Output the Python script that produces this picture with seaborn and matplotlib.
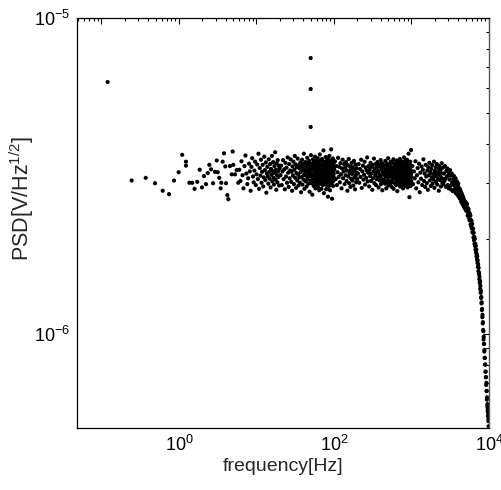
import numpy as np
import pandas as pd
import matplotlib
matplotlib.use("Agg")
import matplotlib.pyplot as plt
import matplotlib.ticker as mticker
import seaborn as sns

# ---------------- data (frequency in Hz, PSD in units of 1e-8 V/Hz^1/2) ----------------
outlier_freq = [0.12, 50, 50, 50]
outlier_psd = [627, 747, 596, 452]

low_freq = [0.245, 0.372, 0.49, 0.616, 0.743, 0.862, 0.99, 1.10, 1.23, 1.23,
            1.36, 1.48, 1.59, 1.72, 1.85, 1.98, 2.10, 2.23, 2.35, 2.46,
            2.59, 2.75, 2.91, 3.07, 3.16, 3.31, 3.45, 3.51, 3.66, 3.81,
            3.96, 4.04, 4.20, 4.33, 4.55, 4.79, 4.93, 5.02, 5.28, 5.55, 5.82]
low_psd = [306, 312, 300, 284, 277, 306, 325, 369, 351, 341,
           301, 301, 288, 303, 331, 291, 316, 298, 323, 343,
           332, 300, 326, 354, 325, 312, 289, 301, 351, 373,
           339, 300, 275, 267, 340, 320, 378, 343, 320, 330, 301]

band1_freq = [6.0, 6.2, 6.4, 6.6, 6.8, 7.0, 7.2, 7.4, 7.6, 7.8,
              8.0, 8.2, 8.4, 8.6, 8.8, 9.0, 9.2, 9.4, 9.6, 9.8,
              10.0, 10.2, 10.4, 10.6, 10.8, 11.0, 11.2, 11.4, 11.6, 11.8,
              12.0, 12.2, 12.4, 12.6, 12.8, 13.0, 13.2, 13.4, 13.6, 13.8,
              14.0, 14.2, 14.4, 14.6, 14.8, 15.0, 15.2, 15.4, 15.6, 15.8,
              16.0, 16.2, 16.4, 16.6, 16.8, 17.0, 17.2, 17.4, 17.6, 17.8,
              18.0, 18.2, 18.4, 18.6, 18.8, 19.0, 19.2, 19.4, 19.6, 19.8]
band1_psd = [331, 305, 352, 318, 289, 340, 367, 322, 298, 311, 346, 327, 284, 338, 360, 315, 302, 329, 351, 296,
             320, 344, 309, 372, 288, 335, 317, 356, 301, 326, 343, 293, 313, 364, 330, 307, 349, 280, 322, 338,
             315, 299, 357, 326, 310, 345, 291, 333, 319, 366, 304, 328, 350, 312, 297, 340, 323, 376, 308, 331,
             286, 347, 318, 302, 355, 327, 314, 341, 295, 334]

band2_freq = [20.4, 20.8, 21.2, 21.6, 22.0, 22.4, 22.8, 23.2, 23.6, 24.0,
              24.4, 24.8, 25.2, 25.6, 26.0, 26.4, 26.8, 27.2, 27.6, 28.0,
              28.4, 28.8, 29.2, 29.6, 30.0, 30.4, 30.8, 31.2, 31.6, 32.0,
              32.4, 32.8, 33.2, 33.6, 34.0, 34.4, 34.8, 35.2, 35.6, 36.0,
              36.4, 36.8, 37.2, 37.6, 38.0, 38.4, 38.8, 39.2, 39.6, 40.0,
              40.4, 40.8, 41.2, 41.6, 42.0, 42.4, 42.8, 43.2, 43.6, 44.0,
              44.4, 44.8, 45.2, 45.6, 46.0, 46.4, 46.8, 47.2, 47.6, 48.0,
              48.4, 48.8, 49.2, 49.6, 50.0, 50.4, 50.8, 51.2, 51.6, 52.0,
              52.4, 52.8, 53.2, 53.6, 54.0, 54.4, 54.8, 55.2, 55.6, 56.0,
              56.4, 56.8, 57.2, 57.6, 58.0, 58.4, 58.8, 59.2, 59.6, 60.0,
              60.4, 60.8, 61.2, 61.6, 62.0, 62.4, 62.8, 63.2, 63.6, 64.0,
              64.4, 64.8, 65.2, 65.6, 66.0, 66.4, 66.8, 67.2, 67.6, 68.0,
              68.4, 68.8, 69.2, 69.6, 70.0, 70.4, 70.8, 71.2, 71.6, 72.0,
              72.4, 72.8, 73.2, 73.6, 74.0, 74.4, 74.8, 75.2, 75.6, 76.0,
              76.4, 76.8, 77.2, 77.6, 78.0, 78.4, 78.8, 79.2, 79.6, 80.0,
              80.4, 80.8, 81.2, 81.6, 82.0, 82.4, 82.8, 83.2, 83.6, 84.0,
              84.4, 84.8, 85.2, 85.6, 86.0, 86.4, 86.8, 87.2, 87.6, 88.0,
              88.4, 88.8, 89.2, 89.6, 90.0, 90.4, 90.8, 91.2, 91.6, 92.0,
              92.4, 92.8, 93.2, 93.6, 94.0, 94.4, 94.8, 95.2, 95.6, 96.0,
              96.4, 96.8, 97.2, 97.6, 98.0, 98.4, 98.8, 99.2, 99.6, 100.0]
band2_psd = [318, 341, 296, 327, 355, 309, 332, 287, 348, 315, 336, 301, 362, 324, 292, 345, 311, 329, 357, 303,
             326, 284, 339, 317, 351, 298, 331, 366, 312, 344, 290, 323, 337, 306, 359, 320, 295, 342, 313, 334,
             301, 349, 325, 281, 338, 314, 356, 297, 330, 345, 308, 372, 319, 288, 336, 327, 350, 304, 317, 340,
             293, 329, 361, 310, 324, 347, 299, 335, 316, 353, 282, 328, 343, 305, 321, 368, 300, 332, 314, 346,
             276, 338, 322, 357, 307, 331, 294, 349, 318, 336, 302, 364, 325, 289, 341, 311, 353, 297, 330, 319,
             345, 304, 327, 360, 292, 339, 316, 351, 308, 333, 285, 347, 322, 370, 299, 326, 313, 342, 306, 355,
             320, 288, 336, 311, 358, 301, 329, 344, 296, 317, 352, 309, 381, 323, 279, 340, 315, 334, 303, 348,
             312, 339, 298, 326, 363, 305, 331, 287, 350, 318, 341, 300, 324, 356, 291, 337, 310, 345, 272, 328,
             358, 307, 321, 343, 294, 335, 316, 366, 302, 329, 348, 285, 338, 314, 353, 297, 325, 342, 309, 384,
             323, 299, 346, 317, 334, 268, 350, 311, 327, 303, 340, 359, 294, 331, 315, 347, 306, 321, 337, 312]

band3_freq = [101, 103, 105, 107, 109, 111, 113, 115, 117, 119,
              121, 123, 125, 127, 129, 131, 133, 135, 137, 139,
              141, 143, 145, 147, 149, 151, 153, 155, 157, 159,
              161, 163, 165, 167, 169, 171, 173, 175, 177, 179,
              181, 183, 185, 187, 189, 191, 193, 195, 197, 199,
              204, 208, 212, 216, 220, 224, 228, 232, 236, 240,
              244, 248, 252, 256, 260, 264, 268, 272, 276, 280,
              284, 288, 292, 296, 300, 304, 308, 312, 316, 320,
              324, 328, 332, 336, 340, 344, 348, 352, 356, 360,
              364, 368, 372, 376, 380, 384, 388, 392, 396, 400,
              404, 408, 412, 416, 420, 424, 428, 432, 436, 440,
              444, 448, 452, 456, 460, 464, 468, 472, 476, 480,
              484, 488, 492, 496, 500, 504, 508, 512, 516, 520,
              524, 528, 532, 536, 540, 544, 548, 552, 556, 560,
              564, 568, 572, 576, 580, 584, 588, 592, 596, 600,
              604, 608, 612, 616, 620, 624, 628, 632, 636, 640,
              644, 648, 652, 656, 660, 664, 668, 672, 676, 680,
              684, 688, 692, 696, 700, 704, 708, 712, 716, 720,
              724, 728, 732, 736, 740, 744, 748, 752, 756, 760,
              764, 768, 772, 776, 780, 784, 788, 792, 796, 800,
              804, 808, 812, 816, 820, 824, 828, 832, 836, 840,
              844, 848, 852, 856, 860, 864, 868, 872, 876, 880,
              884, 888, 892, 896, 900, 904, 908, 912, 916, 920,
              924, 928, 932, 936, 940, 944, 948, 952, 956, 960,
              964, 968, 972, 976, 980, 984, 988, 992, 996, 1000]
band3_psd = [331, 352, 309, 340, 296, 325, 361, 314, 338, 302, 347, 320, 289, 334, 356, 311, 327, 345, 298, 336,
             318, 350, 305, 329, 284, 342, 315, 358, 300, 323, 339, 292, 331, 310, 348, 321, 306, 337, 295, 326,
             353, 313, 330, 287, 344, 317, 302, 335, 324, 309,
             322, 345, 301, 333, 314, 356, 290, 327, 341, 308, 319, 351, 297, 336, 312, 329, 362, 304, 324, 340,
             293, 331, 316, 348, 305, 322, 338, 286, 343, 311, 327, 359, 300, 334, 318, 345, 296, 325, 309, 337,
             350, 313, 328, 291, 344, 321, 306, 339, 317, 355, 298, 332, 310, 347, 285, 326, 341, 303, 319, 336,
             307, 342, 324, 299, 353, 315, 331, 289, 338, 320, 346, 304, 327, 312, 360, 295, 335, 318, 301, 343,
             328, 297, 340, 316, 351, 306, 323, 337, 292, 329, 314, 349, 302, 334, 321, 357, 288, 332, 310, 345,
             319, 338, 300, 326, 347, 311, 333, 296, 341, 317, 354, 305, 329, 283, 339, 322, 308, 350, 315, 331,
             298, 344, 320, 336, 307, 325, 358, 293, 332, 314, 347, 301, 328, 340, 311, 352, 296, 323, 337, 306,
             341, 316, 330, 289, 348, 322, 305, 335, 318, 362, 299, 327, 312, 344, 303, 331, 320, 353, 294, 338,
             310, 333, 297, 345, 324, 308, 339, 315, 356, 302, 326, 343, 291, 334, 319, 348, 306, 329, 372, 300,
             325, 342, 308, 331, 271, 346, 317, 335, 299, 323, 351, 313, 330, 294, 340, 321, 382, 305, 327, 314]

band4_freq = [1025, 1050, 1075, 1100, 1125, 1150, 1175, 1200, 1225, 1250,
              1275, 1300, 1325, 1350, 1375, 1400, 1425, 1450, 1475, 1500,
              1525, 1550, 1575, 1600, 1625, 1650, 1675, 1700, 1725, 1750,
              1775, 1800, 1825, 1850, 1875, 1900, 1925, 1950, 1975, 2000,
              2025, 2050, 2075, 2100, 2125, 2150, 2175, 2200, 2225, 2250,
              2275, 2300, 2325, 2350, 2375, 2400, 2425, 2450, 2475, 2500,
              2540, 2580, 2620, 2660, 2700, 2740, 2780, 2820, 2860, 2900,
              2940, 2980, 3020, 3060, 3100, 3140, 3180, 3220, 3260, 3300,
              3340, 3380, 3420, 3460, 3500, 3540, 3580, 3620, 3660, 3700,
              3740, 3780, 3820, 3860, 3900, 3940, 3980, 4020, 4060, 4100,
              4140, 4180, 4220, 4260, 4300, 4340, 4380, 4420, 4460, 4500,
              4540, 4580, 4620, 4660, 4700, 4740, 4780, 4820, 4860, 4900,
              4940, 4980]
band4_psd = [340, 298, 327, 311, 352, 289, 318, 335, 302, 346, 281, 324, 310, 339, 296, 331, 357, 305, 322, 292,
             343, 315, 300, 329, 286, 337, 318, 348, 306, 325, 294, 333, 313, 342, 299, 321, 308, 351, 290, 328,
             316, 337, 303, 324, 345, 297, 319, 310, 334, 284, 326, 340, 307, 318, 330, 293, 322, 347, 311, 301,
             336, 298, 322, 305, 340, 310, 292, 328, 315, 334, 296, 318, 289, 325, 308, 330, 294, 317, 286, 322,
             301, 318, 283, 309, 296, 316, 284, 305, 290, 311, 279, 300, 287, 304, 276, 296, 281, 299, 272, 290,
             276, 288, 268, 285, 270, 281, 262, 279, 263, 275, 258, 272, 259, 270, 254, 266, 253, 264, 250, 262,
             249, 260]

rolloff_freq = [5000, 5050, 5100, 5150, 5200, 5250, 5300, 5350, 5400, 5450,
                5500, 5550, 5600, 5650, 5700, 5750, 5800, 5850, 5900, 5950,
                6000, 6050, 6100, 6150, 6200, 6250, 6300, 6350, 6400, 6450,
                6500, 6550, 6600, 6650, 6700, 6750, 6800, 6850, 6900, 6950,
                7000, 7050, 7100, 7150, 7200, 7250, 7300, 7350, 7400, 7450,
                7500, 7550, 7600, 7650, 7700, 7750, 7800, 7850, 7900, 7950,
                8000, 8050, 8100, 8150, 8200, 8250, 8300, 8350, 8400, 8450,
                8500, 8550, 8600, 8650, 8700, 8750, 8800, 8850, 8900, 8950,
                9000, 9050, 9100, 9150, 9200, 9250, 9300, 9350, 9400, 9450,
                9500, 9550, 9600, 9650, 9700, 9750, 9800, 9850, 9900, 9950,
                10000]
rolloff_psd = [261, 246, 255, 246, 258, 245, 237, 250, 241, 248,
               234, 242, 229, 240, 231, 237, 222, 229, 219, 228,
               216, 223, 210, 216, 209, 215, 202, 209, 198, 203,
               193, 200, 190, 193, 185, 190, 181, 185, 176, 179,
               172, 176, 168, 171, 163, 166, 158, 162, 155, 156,
               149, 152, 145, 147, 139, 142, 135, 137, 130, 131,
               125, 126, 119, 120, 113, 115, 108, 109, 103, 102,
               96, 98, 93, 93, 88, 89, 84, 84, 80, 80,
               76, 76, 73, 73, 69, 70, 66, 66, 62, 63,
               59, 60, 57, 58, 55, 56, 53, 54, 51, 51,
               50]

x_tick_values = [0.1, 1, 10, 100, 1000, 10000]
x_tick_labels = ["", "$10^0$", "", "$10^2$", "", "$10^4$"]
y_tick_values = [1e-6, 1e-5]
y_tick_labels = ["$10^{-6}$", "$10^{-5}$"]

# ---------------- build table ----------------
freq_all = (outlier_freq + low_freq + band1_freq + band2_freq + band3_freq
            + band4_freq + rolloff_freq)
psd_all = (outlier_psd + low_psd + band1_psd + band2_psd + band3_psd
           + band4_psd + rolloff_psd)
df = pd.DataFrame({"freq": freq_all, "psd": np.array(psd_all, dtype=float) * 1e-8})

# ---------------- style ----------------
sns.set_style("white")
plt.rcParams["font.family"] = ["Liberation Sans", "DejaVu Sans"]
plt.rcParams["mathtext.default"] = "regular"

fig = plt.figure(figsize=(5.02, 4.90), dpi=100)
ax = fig.add_axes([77 / 502, 62 / 490, 412 / 502, 410 / 490])

sns.scatterplot(data=df, x="freq", y="psd", color="black", s=9, linewidth=0,
                edgecolor="none", ax=ax, legend=False)

ax.set_xscale("log")
ax.set_yscale("log")
ax.set_xlim(0.0483, 1e4)
ax.set_ylim(5.04e-7, 1e-5)

ax.xaxis.set_major_locator(mticker.FixedLocator(x_tick_values))
ax.xaxis.set_major_formatter(mticker.FixedFormatter(x_tick_labels))
ax.xaxis.set_minor_locator(mticker.LogLocator(base=10, subs=np.arange(2, 10), numticks=20))
ax.xaxis.set_minor_formatter(mticker.NullFormatter())
ax.yaxis.set_major_locator(mticker.FixedLocator(y_tick_values))
ax.yaxis.set_major_formatter(mticker.FixedFormatter(y_tick_labels))
ax.yaxis.set_minor_locator(mticker.LogLocator(base=10, subs=np.arange(2, 10), numticks=20))
ax.yaxis.set_minor_formatter(mticker.NullFormatter())

ax.tick_params(which="both", direction="in", top=True, right=True,
               colors="black", labelsize=13, width=0.8)
ax.tick_params(which="major", length=4.5, pad=5)
ax.tick_params(which="minor", length=2.5)

for side in ["left", "bottom", "top"]:
    ax.spines[side].set_color("black")
    ax.spines[side].set_linewidth(0.9)
ax.spines["right"].set_color("#555555")
ax.spines["right"].set_linewidth(1.0)

ax.set_xlabel("frequency[Hz]", fontsize=14, labelpad=2)
ax.set_ylabel("PSD[V/Hz$^{1/2}$]", fontsize=15.5)
ax.yaxis.set_label_coords(-0.100, 0.56)

fig.savefig("out.png", dpi=100)
